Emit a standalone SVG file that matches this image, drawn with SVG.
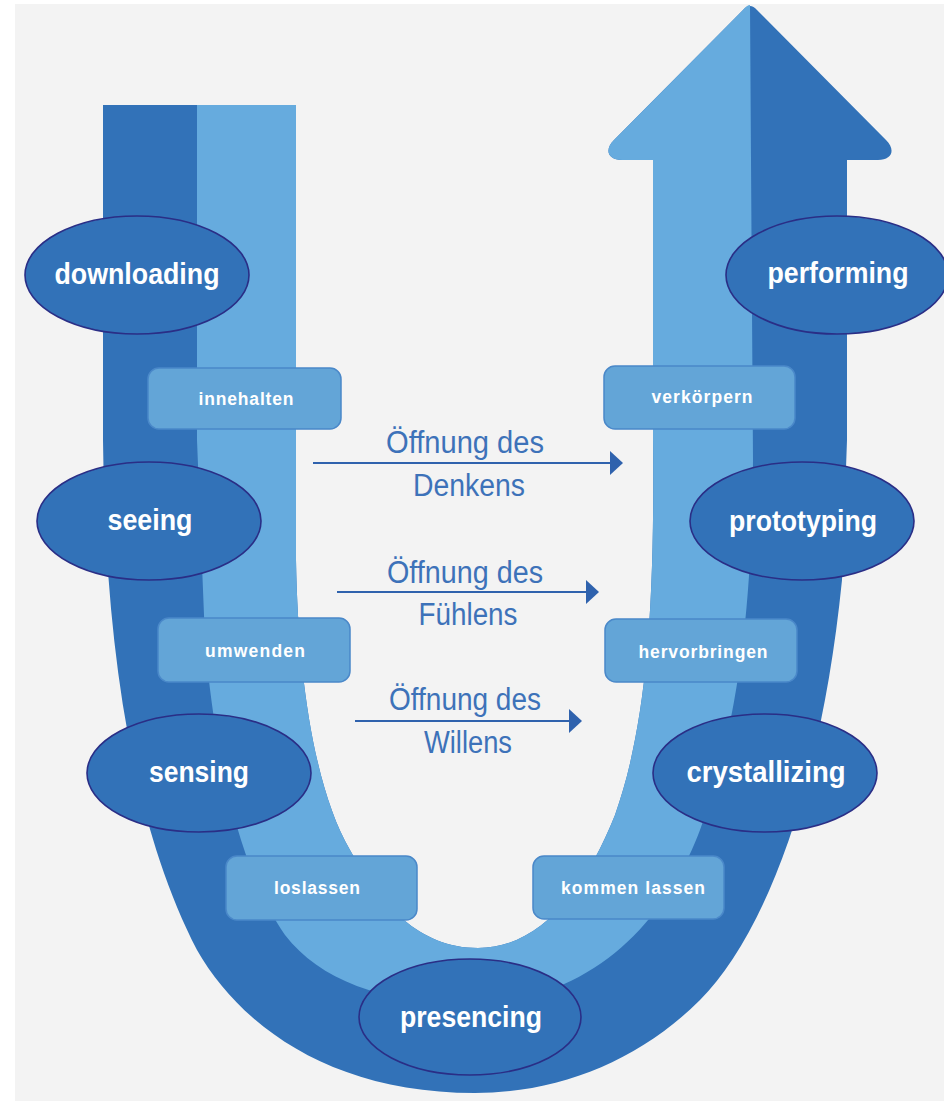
<svg xmlns="http://www.w3.org/2000/svg" width="944" height="1101" viewBox="0 0 944 1101">
<style>
.stage{fill:#3272b8;stroke:#2a2e86;stroke-width:1.6}
.stage-t{font-family:"Liberation Sans",Arial,sans-serif;font-weight:bold;font-size:29px;fill:#ffffff;text-anchor:middle}
.step{fill:#63a5d7;stroke:#4a88c9;stroke-width:1.5}
.step-t{font-family:"Liberation Sans",Arial,sans-serif;font-weight:bold;font-size:17.5px;fill:#ffffff;text-anchor:middle}
.open{fill:none;stroke:#2f62ad;stroke-width:2.2}
.open-t{font-family:"Liberation Sans",Arial,sans-serif;font-size:31px;fill:#3d72b9;text-anchor:middle}
</style>
<defs>
<marker id="ah" markerUnits="userSpaceOnUse" markerWidth="14" markerHeight="26" refX="0" refY="12" orient="auto">
<path d="M0,0 L13,12 L0,24 Z" fill="#2f62ad"/>
</marker>
</defs>
<rect x="0" y="0" width="944" height="1101" fill="#ffffff"/>
<rect x="15" y="4" width="929" height="1097" fill="#f3f3f3"/>
<g id="u-shape">
<path fill="#3272b8" d="M103,105 L103,440 C105,640 130,820 197,950 C240,1025 330,1093 475,1093 C560,1093 640,1060 700,1000 C760,940 820,800 842,580 L847,440 L847,160 L878,160 C892,160 896,150 886,140 L757,10 Q750,2 743,10 L614,140 C604,150 608,160 622,160 L653,160 L653,440 C655,620 645,730 615,815 C585,890 540,948 478,948 C420,948 380,905 350,850 C315,790 298,680 296,560 L296,105 Z"/>
<path fill="#66abde" d="M197,105 L296,105 L296,560 C298,680 315,790 350,850 C380,905 420,948 478,948 C540,948 585,890 615,815 C645,730 655,620 653,440 L653,160 L622,160 C608,160 604,150 614,140 L743,10 Q747,5 750,5 L751,160 L753,460 C752,600 740,720 700,830 C670,910 600,1003 470,1003 C380,1003 320,980 285,935 C240,870 215,760 205,640 L197,440 Z"/>
</g>
<g id="connectors">
<line class="open" x1="313" y1="463" x2="610" y2="463" marker-end="url(#ah)"/>
<line class="open" x1="337" y1="592" x2="586" y2="592" marker-end="url(#ah)"/>
<line class="open" x1="355" y1="721" x2="569" y2="721" marker-end="url(#ah)"/>
<text class="open-t" x="465" y="453" textLength="158" lengthAdjust="spacingAndGlyphs">Öffnung des</text>
<text class="open-t" x="469" y="496" textLength="112" lengthAdjust="spacingAndGlyphs">Denkens</text>
<text class="open-t" x="465" y="583" textLength="156" lengthAdjust="spacingAndGlyphs">Öffnung des</text>
<text class="open-t" x="468" y="625" textLength="99" lengthAdjust="spacingAndGlyphs">Fühlens</text>
<text class="open-t" x="465" y="710" textLength="152" lengthAdjust="spacingAndGlyphs">Öffnung des</text>
<text class="open-t" x="468" y="753" textLength="88" lengthAdjust="spacingAndGlyphs">Willens</text>
</g>
<g id="innehalten"><rect class="step" x="148" y="368" width="193" height="61" rx="11"/><text class="step-t" x="246" y="405" textLength="95">innehalten</text></g>
<g id="umwenden"><rect class="step" x="158" y="618" width="192" height="64" rx="11"/><text class="step-t" x="255" y="657" textLength="100">umwenden</text></g>
<g id="loslassen"><rect class="step" x="226" y="856" width="191" height="64" rx="11"/><text class="step-t" x="317" y="894" textLength="86">loslassen</text></g>
<g id="kommen-lassen"><rect class="step" x="533" y="856" width="191" height="63" rx="11"/><text class="step-t" x="633" y="894" textLength="144">kommen lassen</text></g>
<g id="hervorbringen"><rect class="step" x="605" y="619" width="192" height="63" rx="11"/><text class="step-t" x="703" y="658" textLength="129">hervorbringen</text></g>
<g id="verkoerpern"><rect class="step" x="604" y="366" width="191" height="63" rx="11"/><text class="step-t" x="702" y="403" textLength="101">verkörpern</text></g>
<g id="downloading"><ellipse class="stage" cx="137" cy="275" rx="112" ry="59"/><text class="stage-t" x="137" y="284" textLength="165" lengthAdjust="spacingAndGlyphs">downloading</text></g>
<g id="seeing"><ellipse class="stage" cx="149" cy="521" rx="112" ry="59"/><text class="stage-t" x="150" y="530" textLength="85" lengthAdjust="spacingAndGlyphs">seeing</text></g>
<g id="sensing"><ellipse class="stage" cx="199" cy="773" rx="112" ry="59"/><text class="stage-t" x="199" y="782" textLength="100" lengthAdjust="spacingAndGlyphs">sensing</text></g>
<g id="presencing"><ellipse class="stage" cx="470" cy="1017" rx="111" ry="58"/><text class="stage-t" x="471" y="1027" textLength="142" lengthAdjust="spacingAndGlyphs">presencing</text></g>
<g id="crystallizing"><ellipse class="stage" cx="765" cy="773" rx="112" ry="59"/><text class="stage-t" x="766" y="782" textLength="159" lengthAdjust="spacingAndGlyphs">crystallizing</text></g>
<g id="prototyping"><ellipse class="stage" cx="802" cy="521" rx="112" ry="59"/><text class="stage-t" x="803" y="531" textLength="148" lengthAdjust="spacingAndGlyphs">prototyping</text></g>
<g id="performing"><ellipse class="stage" cx="837" cy="275" rx="111" ry="59"/><text class="stage-t" x="838" y="283" textLength="141" lengthAdjust="spacingAndGlyphs">performing</text></g>
</svg>
